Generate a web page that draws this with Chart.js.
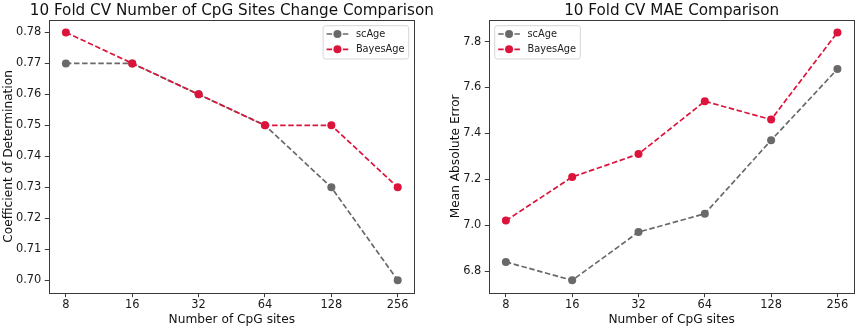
<!DOCTYPE html>
<html><head><meta charset="utf-8">
<script src="https://cdn.jsdelivr.net/npm/chart.js@4/dist/chart.umd.min.js"></script>
<style>
html,body{margin:0;padding:0;background:#fff;}
body{width:858px;height:329px;overflow:hidden;position:relative;}
canvas{position:absolute;top:0;}
#c1{left:0;}
#c2{left:440px;}
</style></head>
<body>
<canvas id="c1" width="470" height="329"></canvas>
<canvas id="c2" width="418" height="329"></canvas>
<script>
const categories = ['8', '16', '32', '64', '128', '256'];
const seriesNames = ['scAge', 'BayesAge'];
const r2ScAge = [0.77, 0.77, 0.76, 0.75, 0.73, 0.70];
const r2BayesAge = [0.78, 0.77, 0.76, 0.75, 0.75, 0.73];
const maeScAge = [6.84, 6.76, 6.97, 7.05, 7.37, 7.68];
const maeBayesAge = [7.02, 7.21, 7.31, 7.54, 7.46, 7.84];
const r2Ticks = [0.70, 0.71, 0.72, 0.73, 0.74, 0.75, 0.76, 0.77, 0.78];
const maeTicks = [6.8, 7.0, 7.2, 7.4, 7.6, 7.8];
const leftTitle = '10 Fold CV Number of CpG Sites Change Comparison';
const rightTitle = '10 Fold CV MAE Comparison';
const xTitle = 'Number of CpG sites';
const leftYTitle = 'Coefficient of Determination';
const rightYTitle = 'Mean Absolute Error';

const FONT = 'DejaVu Sans';
const GRAY = '#696969';
const RED = '#DC143C';

function pts(vals) { return vals.map((v, i) => ({ x: i, y: v })); }
function margins(vals) {
  const mn = Math.min(...vals), mx = Math.max(...vals), m = (mx - mn) * 0.05;
  return [mn - m, mx + m];
}

const framePlugin = {
  id: 'frame',
  afterDraw(chart) {
    const { ctx, chartArea: a } = chart;
    ctx.save();
    ctx.strokeStyle = '#3a3a3a';
    ctx.lineWidth = 1;
    ctx.strokeRect(Math.round(a.left) + 0.5, Math.round(a.top) + 0.5,
      Math.round(a.right) - Math.round(a.left), Math.round(a.bottom) - Math.round(a.top));
    ctx.restore();
  }
};

const titlePlugin = {
  id: 'mplTitle',
  afterDraw(chart, args, opts) {
    const { ctx, chartArea: a } = chart;
    ctx.save();
    ctx.font = '15.2px "' + FONT + '"';
    ctx.fillStyle = '#111';
    ctx.textAlign = 'center';
    ctx.textBaseline = 'alphabetic';
    ctx.fillText(opts.text, (a.left + a.right) / 2, 15);
    ctx.restore();
  }
};

const legendPlugin = {
  id: 'mplLegend',
  afterDraw(chart, args, opts) {
    const { ctx, chartArea: a } = chart;
    const ds = chart.data.datasets;
    ctx.save();
    ctx.font = '9.8px "' + FONT + '"';
    let tw = 0;
    ds.forEach(d => { tw = Math.max(tw, ctx.measureText(d.label).width); });
    const w = 3.5 + 21.7 + 7.6 + tw + 4.2;
    const h = 33.3;
    const x0 = opts.side === 'right' ? a.right - 5.6 - w : a.left + 5.4;
    const y0 = a.top + 5.7;
    const r = 2.5;
    ctx.beginPath();
    ctx.moveTo(x0 + r, y0);
    ctx.lineTo(x0 + w - r, y0); ctx.quadraticCurveTo(x0 + w, y0, x0 + w, y0 + r);
    ctx.lineTo(x0 + w, y0 + h - r); ctx.quadraticCurveTo(x0 + w, y0 + h, x0 + w - r, y0 + h);
    ctx.lineTo(x0 + r, y0 + h); ctx.quadraticCurveTo(x0, y0 + h, x0, y0 + h - r);
    ctx.lineTo(x0, y0 + r); ctx.quadraticCurveTo(x0, y0, x0 + r, y0);
    ctx.closePath();
    ctx.fillStyle = 'rgba(255,255,255,0.8)';
    ctx.fill();
    ctx.strokeStyle = '#d6d6d6';
    ctx.lineWidth = 1;
    ctx.stroke();
    ds.forEach((d, i) => {
      const yy = y0 + 8.3 + i * 15.3;
      const lx = x0 + 3.5;
      ctx.beginPath();
      ctx.setLineDash(d.borderDash);
      ctx.strokeStyle = d.borderColor;
      ctx.lineWidth = d.borderWidth;
      ctx.moveTo(lx, yy); ctx.lineTo(lx + 21.7, yy);
      ctx.stroke();
      ctx.setLineDash([]);
      ctx.beginPath();
      ctx.fillStyle = d.pointBackgroundColor;
      ctx.arc(lx + 10.85, yy, d.pointRadius, 0, Math.PI * 2);
      ctx.fill();
      ctx.fillStyle = '#222';
      ctx.textAlign = 'left';
      ctx.textBaseline = 'middle';
      ctx.fillText(d.label, lx + 21.7 + 7.6, yy + 0.5);
    });
    ctx.restore();
  }
};

function makeDataset(label, vals, color, order) {
  return {
    label, data: pts(vals), borderColor: color, backgroundColor: color,
    pointBackgroundColor: color, pointBorderColor: color, pointBorderWidth: 0,
    pointRadius: 4, pointHoverRadius: 4, borderWidth: 1.7, borderDash: [5.5, 2.6],
    fill: false, tension: 0, order
  };
}

function makeChart(id, sc, ba, ticks, yTitle, title, side, padRight, yTitlePad) {
  const [ymin, ymax] = margins(sc.concat(ba));
  return new Chart(document.getElementById(id), {
    type: 'line',
    data: { datasets: [
      makeDataset(seriesNames[0], sc, GRAY, 1),
      makeDataset(seriesNames[1], ba, RED, 0)
    ] },
    options: {
      responsive: false, animation: false, devicePixelRatio: 1,
      layout: { padding: { left: 0, right: padRight, top: 20, bottom: 0 } },
      plugins: { legend: { display: false }, tooltip: { enabled: false },
        mplTitle: { text: title }, mplLegend: { side } },
      scales: {
        x: {
          type: 'linear', min: -0.25, max: categories.length - 0.75,
          afterBuildTicks: s => { s.ticks = categories.map((c, i) => ({ value: i })); },
          afterFit: s => { s.height = 36.3; },
          ticks: { callback: v => categories[v], font: { family: FONT, size: 11.4 }, color: '#1a1a1a',
            padding: 1.5, maxRotation: 0, autoSkip: false },
          grid: { display: true, drawOnChartArea: false, drawTicks: true, tickLength: 4.5, color: '#3a3a3a', tickWidth: 1 },
          border: { display: false },
          title: { display: true, text: xTitle, font: { family: FONT, size: 12.2, lineHeight: 1 }, color: '#111',
            padding: { top: 0, bottom: 3.0 } }
        },
        y: {
          type: 'linear', min: ymin, max: ymax,
          afterBuildTicks: s => { s.ticks = ticks.map(v => ({ value: v })); },
          afterFit: s => { s.width = 49.3; },
          ticks: { callback: v => v.toFixed(id === 'c1' ? 2 : 1), font: { family: FONT, size: 11.4 }, color: '#1a1a1a',
            padding: 3.5 },
          grid: { display: true, drawOnChartArea: false, drawTicks: true, tickLength: 4.5, color: '#3a3a3a', tickWidth: 1 },
          border: { display: false },
          title: { display: true, text: yTitle, font: { family: FONT, size: 12.2, lineHeight: 1 }, color: '#111',
            padding: { top: yTitlePad, bottom: 0 } }
        }
      }
    },
    plugins: [framePlugin, titlePlugin, legendPlugin]
  });
}

makeChart('c1', r2ScAge, r2BayesAge, r2Ticks, leftYTitle, leftTitle, 'right', 470 - 414.3, 2.5);
makeChart('c2', maeScAge, maeBayesAge, maeTicks, rightYTitle, rightTitle, 'left', 418 - 415, 9.8);
</script>
</body></html>
